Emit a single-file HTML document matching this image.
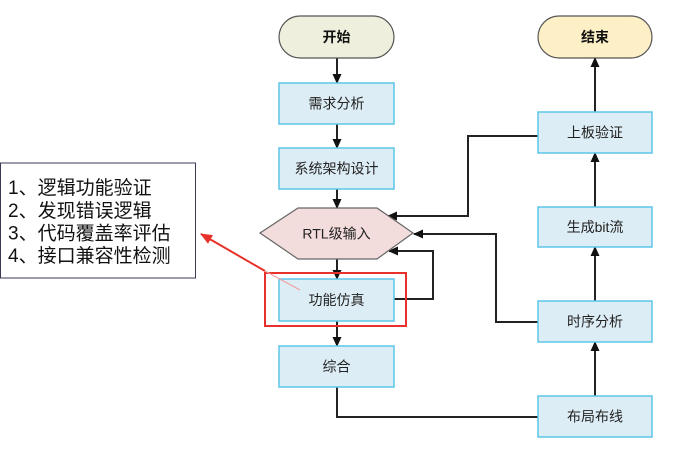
<!DOCTYPE html>
<html><head><meta charset="utf-8"><style>
html,body{margin:0;padding:0;background:#fff;}
svg{display:block;}
text{font-family:"Liberation Sans","Noto Sans CJK SC",sans-serif;}
</style></head><body>
<svg width="693" height="455" viewBox="0 0 693 455" xmlns="http://www.w3.org/2000/svg">
<defs>
<marker id="ah" markerWidth="10" markerHeight="9" refX="9" refY="4.5" orient="auto" markerUnits="userSpaceOnUse">
<path d="M0,0 L10,4.5 L0,9 Z" fill="#111"/>
</marker>
<marker id="rh" markerWidth="12" markerHeight="10" refX="11" refY="5" orient="auto" markerUnits="userSpaceOnUse">
<path d="M0,0 L12,5 L0,10 Z" fill="#e8312a"/>
</marker>
</defs>
<!-- connectors -->
<g stroke="#222" stroke-width="2" fill="none">
<line x1="337" y1="58" x2="337" y2="83" marker-end="url(#ah)"/>
<line x1="337" y1="124" x2="337" y2="148" marker-end="url(#ah)"/>
<line x1="337" y1="189" x2="337" y2="208" marker-end="url(#ah)"/>
<line x1="337" y1="259" x2="337" y2="279" marker-end="url(#ah)"/>
<line x1="337" y1="321" x2="337" y2="346" marker-end="url(#ah)"/>
<polyline points="337,387 337,417 538,417"/>
<polyline points="394,299 433,299 433,251 389,251" marker-end="url(#ah)"/>
<polyline points="538,136 468,136 468,216 388,216" marker-end="url(#ah)"/>
<polyline points="538,322 496,322 496,234 414,234" marker-end="url(#ah)"/>
<line x1="595" y1="396" x2="595" y2="342" marker-end="url(#ah)"/>
<line x1="595" y1="301" x2="595" y2="247" marker-end="url(#ah)"/>
<line x1="595" y1="207" x2="595" y2="153" marker-end="url(#ah)"/>
<line x1="595" y1="112" x2="595" y2="58" marker-end="url(#ah)"/>
</g>
<!-- start / end -->
<rect x="279" y="16" width="115" height="42" rx="21" fill="#eef0dd" stroke="#555" stroke-width="1.2"/>
<text x="336.5" y="42" font-size="14" font-weight="bold" text-anchor="middle" fill="#111">开始</text>
<rect x="538" y="16" width="114" height="42" rx="21" fill="#fdefc6" stroke="#555" stroke-width="1.2"/>
<text x="595" y="42" font-size="14" font-weight="bold" text-anchor="middle" fill="#111">结束</text>
<!-- boxes -->
<g fill="#ddedf5" stroke="#5cc6e8" stroke-width="1.5">
<rect x="279" y="83" width="115" height="41"/>
<rect x="279" y="148" width="115" height="41"/>
<rect x="279" y="279" width="115" height="42"/>
<rect x="279" y="346" width="115" height="41"/>
<rect x="538" y="112" width="114" height="41"/>
<rect x="538" y="207" width="114" height="40"/>
<rect x="538" y="301" width="114" height="41"/>
<rect x="538" y="396" width="114" height="41"/>
</g>
<polygon points="260,233 298,208 377,208 413,233 377,259 298,259" fill="#f3dcdc" stroke="#666" stroke-width="1.2"/>
<g font-size="14" fill="#222" text-anchor="middle">
<text x="336.5" y="108.5">需求分析</text>
<text x="336.5" y="173.5">系统架构设计</text>
<text x="336.5" y="238.5">RTL级输入</text>
<text x="336.5" y="305">功能仿真</text>
<text x="336.5" y="371.5">综合</text>
<text x="595" y="137.5">上板验证</text>
<text x="595" y="232">生成bit流</text>
<text x="595" y="326.5">时序分析</text>
<text x="595" y="421.5">布局布线</text>
</g>
<!-- red highlight -->
<rect x="265" y="273" width="141" height="53" fill="none" stroke="#e8312a" stroke-width="2"/>
<line x1="300" y1="290" x2="265" y2="271" stroke="#f0a0a0" stroke-width="1.2"/>
<line x1="265" y1="271" x2="201" y2="234" stroke="#e8312a" stroke-width="2" marker-end="url(#rh)"/>
<!-- note box -->
<rect x="0.5" y="163" width="195" height="115" fill="#fff" stroke="#3a3a55" stroke-width="1"/>
<g font-size="19" fill="#111">
<text x="8" y="194">1、逻辑功能验证</text>
<text x="8" y="217">2、发现错误逻辑</text>
<text x="8" y="239.5">3、代码覆盖率评估</text>
<text x="8" y="262">4、接口兼容性检测</text>
</g>
</svg>
</body></html>
